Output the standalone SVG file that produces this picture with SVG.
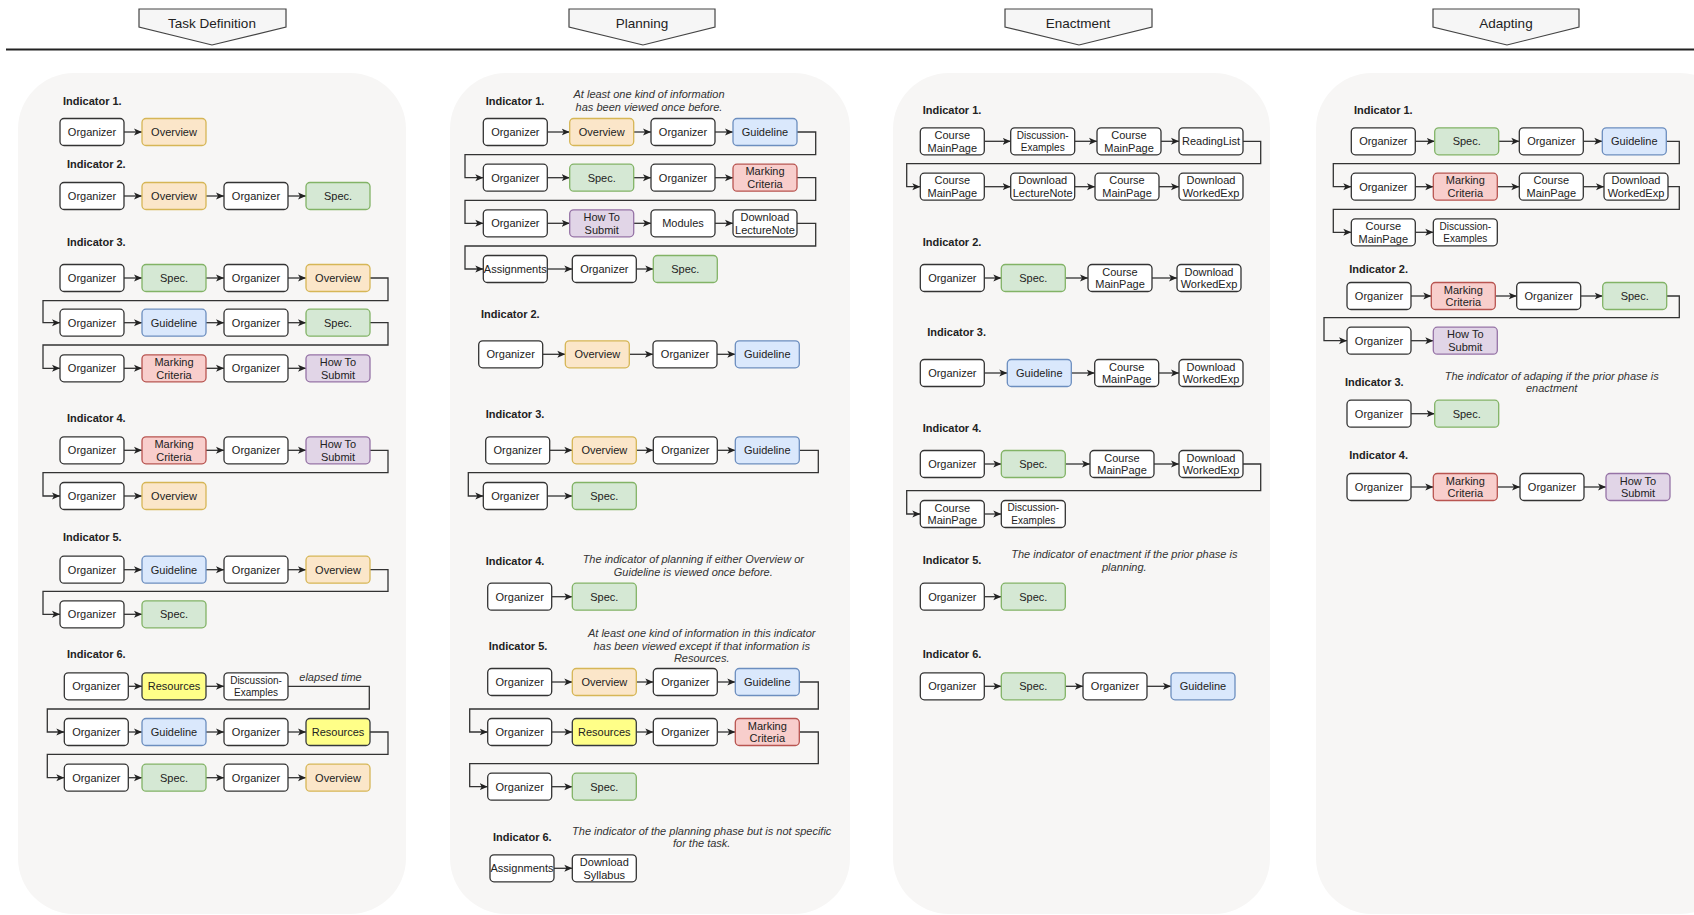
<svg xmlns="http://www.w3.org/2000/svg" width="1694" height="915" viewBox="0 0 1694 915">
<style>
  .panel { fill: #f7f6f5; }
  .phase { fill: #f6f6f6; stroke: #444; stroke-width: 1.2; }
  .hd { font: 13.5px "Liberation Sans", Arial, sans-serif; fill: #222; text-anchor: middle; }
  rect.nw, rect.ov, rect.sp, rect.gl, rect.mc, rect.hs, rect.rs { stroke-width: 1.3; }
  .nw { fill: #ffffff; stroke: #333; }
  .ov { fill: #fbe6c9; stroke: #d6b656; }
  .sp { fill: #d5e8d4; stroke: #82b366; }
  .gl { fill: #dae8fc; stroke: #6c8ebf; }
  .mc { fill: #f8cecc; stroke: #b85450; }
  .hs { fill: #e1d5e7; stroke: #9673a6; }
  .rs { fill: #ffff88; stroke: #36393d; }
  .t { font: 11px "Liberation Sans", Arial, sans-serif; fill: #222; text-anchor: middle; }
  .s { font: 10px "Liberation Sans", Arial, sans-serif; fill: #222; text-anchor: middle; }
  .lb { font: bold 11px "Liberation Sans", Arial, sans-serif; fill: #222; }
  .nt { font: italic 11px "Liberation Sans", Arial, sans-serif; fill: #333; text-anchor: middle; }
  .cn { fill: none; stroke: #333; stroke-width: 1.3; marker-end: url(#ah); }
</style>
<defs>
  <marker id="ah" markerUnits="userSpaceOnUse" markerWidth="9" markerHeight="8" refX="8" refY="4" orient="auto">
    <path d="M0,0.5 L8,4 L0,7.5 L2,4 Z" fill="#222"/>
  </marker>
</defs>
<rect width="1694" height="915" fill="#ffffff"/>

<!-- phase headers -->
<g id="header">
  <line x1="6" y1="49.5" x2="1694" y2="49.5" stroke="#222" stroke-width="2"/>
  <g id="ph-task"><path class="phase" d="M139,9 H286 V27 L212,45 L139,27 Z"/><text class="hd" x="212" y="28">Task Definition</text></g>
  <g id="ph-plan"><path class="phase" d="M569,9 H715 V27 L643,45 L569,27 Z"/><text class="hd" x="642" y="28">Planning</text></g>
  <g id="ph-enact"><path class="phase" d="M1005,9 H1152 V27 L1079,45 L1005,27 Z"/><text class="hd" x="1078" y="28">Enactment</text></g>
  <g id="ph-adapt"><path class="phase" d="M1433,9 H1579 V27 L1507,45 L1433,27 Z"/><text class="hd" x="1506" y="28">Adapting</text></g>
</g>

<!-- column panels -->
<g id="panels">
  <rect class="panel" x="18" y="73" width="388" height="841" rx="56"/>
  <rect class="panel" x="450" y="73" width="400" height="841" rx="56"/>
  <rect class="panel" x="893" y="73" width="377" height="841" rx="56"/>
  <rect class="panel" x="1316" y="73" width="420" height="841" rx="56"/>
</g>

<!-- labels and notes -->
<g id="labels">
  <text class="lb" x="63" y="104.7">Indicator 1.</text>
  <text class="lb" x="67" y="168">Indicator 2.</text>
  <text class="lb" x="67" y="246">Indicator 3.</text>
  <text class="lb" x="67" y="422.3">Indicator 4.</text>
  <text class="lb" x="63" y="541">Indicator 5.</text>
  <text class="lb" x="67" y="658.3">Indicator 6.</text>
  <text class="nt" x="330.5" y="681">elapsed time</text>

  <text class="lb" x="485.7" y="104.7">Indicator 1.</text>
  <text class="lb" x="481" y="317.7">Indicator 2.</text>
  <text class="lb" x="485.7" y="418.3">Indicator 3.</text>
  <text class="lb" x="485.7" y="565">Indicator 4.</text>
  <text class="lb" x="488.7" y="649.7">Indicator 5.</text>
  <text class="lb" x="493" y="841">Indicator 6.</text>
  <text class="nt" x="649" y="98.3">At least one kind of information</text>
  <text class="nt" x="649" y="111">has been viewed once before.</text>
  <text class="nt" x="693.3" y="563.3">The indicator of planning if either Overview or</text>
  <text class="nt" x="693.3" y="575.7">Guideline is viewed once before.</text>
  <text class="nt" x="701.7" y="637">At least one kind of information in this indicator</text>
  <text class="nt" x="701.7" y="649.7">has been viewed except if that information is</text>
  <text class="nt" x="701.7" y="662.3">Resources.</text>
  <text class="nt" x="701.7" y="835">The indicator of the planning phase but is not specific</text>
  <text class="nt" x="701.7" y="847.3">for the task.</text>

  <text class="lb" x="922.7" y="113.7">Indicator 1.</text>
  <text class="lb" x="922.7" y="245.7">Indicator 2.</text>
  <text class="lb" x="927.3" y="336">Indicator 3.</text>
  <text class="lb" x="922.7" y="431.7">Indicator 4.</text>
  <text class="lb" x="922.7" y="563.7">Indicator 5.</text>
  <text class="lb" x="922.7" y="658.3">Indicator 6.</text>
  <text class="nt" x="1124.3" y="558.3">The indicator of enactment if the prior phase is</text>
  <text class="nt" x="1124.3" y="571">planning.</text>

  <text class="lb" x="1354" y="113.7">Indicator 1.</text>
  <text class="lb" x="1349.3" y="272.7">Indicator 2.</text>
  <text class="lb" x="1345" y="386">Indicator 3.</text>
  <text class="lb" x="1349.3" y="459">Indicator 4.</text>
  <text class="nt" x="1551.7" y="380">The indicator of adaping if the prior phase is</text>
  <text class="nt" x="1551.7" y="392.3">enactment</text>
</g>

<!-- connectors -->
<g id="connectors">
  <!-- Task Definition -->
  <path class="cn" d="M124,132 H142"/>
  <path class="cn" d="M124,196 H142"/><path class="cn" d="M206,196 H224"/><path class="cn" d="M288,196 H306"/>
  <path class="cn" d="M124,278 H142"/><path class="cn" d="M206,278 H224"/><path class="cn" d="M288,278 H306"/>
  <path class="cn" d="M370,278 H388 V300.7 H43 V322.7 H60"/>
  <path class="cn" d="M124,322.7 H142"/><path class="cn" d="M206,322.7 H224"/><path class="cn" d="M288,322.7 H306"/>
  <path class="cn" d="M370,322.7 H388 V345 H43 V368.3 H60"/>
  <path class="cn" d="M124,368.3 H142"/><path class="cn" d="M206,368.3 H224"/><path class="cn" d="M288,368.3 H306"/>
  <path class="cn" d="M124,450.3 H142"/><path class="cn" d="M206,450.3 H224"/><path class="cn" d="M288,450.3 H306"/>
  <path class="cn" d="M370,450.3 H388 V472.7 H43 V496 H60"/>
  <path class="cn" d="M124,496 H142"/>
  <path class="cn" d="M124,569.7 H142"/><path class="cn" d="M206,569.7 H224"/><path class="cn" d="M288,569.7 H306"/>
  <path class="cn" d="M370,569.7 H388 V591.3 H43 V614.3 H60"/>
  <path class="cn" d="M124,614.3 H142"/>
  <path class="cn" d="M128.3,686.3 H142"/><path class="cn" d="M206,686.3 H224"/>
  <path class="cn" d="M288,686.3 H369.3 V709 H47.3 V732 H64.3"/>
  <path class="cn" d="M128.3,732 H142"/><path class="cn" d="M206,732 H224"/><path class="cn" d="M288,732 H306"/>
  <path class="cn" d="M370,732 H388 V754.3 H47.3 V777.7 H64.3"/>
  <path class="cn" d="M128.3,777.7 H142"/><path class="cn" d="M206,777.7 H224"/><path class="cn" d="M288,777.7 H306"/>

  <!-- Planning -->
  <path class="cn" d="M547.3,132 H569.7"/><path class="cn" d="M633.7,132 H651"/><path class="cn" d="M715,132 H733"/>
  <path class="cn" d="M797,132 H815.7 V154.7 H465 V177.7 H483.3"/>
  <path class="cn" d="M547.3,177.7 H569.7"/><path class="cn" d="M633.7,177.7 H651"/><path class="cn" d="M715,177.7 H733"/>
  <path class="cn" d="M797,177.7 H815.7 V200.3 H465 V223.3 H483.3"/>
  <path class="cn" d="M547.3,223.3 H569.7"/><path class="cn" d="M633.7,223.3 H651"/><path class="cn" d="M715,223.3 H733"/>
  <path class="cn" d="M797,223.3 H815.7 V246 H465 V269 H483.3"/>
  <path class="cn" d="M547.3,269 H572.3"/><path class="cn" d="M636.3,269 H653.3"/>
  <path class="cn" d="M542.7,354.3 H565.3"/><path class="cn" d="M629.3,354.3 H653"/><path class="cn" d="M717,354.3 H735.3"/>
  <path class="cn" d="M549.7,450.3 H572.3"/><path class="cn" d="M636.3,450.3 H653.3"/><path class="cn" d="M717.3,450.3 H735.3"/>
  <path class="cn" d="M799.3,450.3 H818.3 V472.7 H468.3 V496 H483.3"/>
  <path class="cn" d="M547.3,496 H572.3"/>
  <path class="cn" d="M551.7,596.7 H572.3"/>
  <path class="cn" d="M551.7,682 H572.3"/><path class="cn" d="M636.3,682 H653.3"/><path class="cn" d="M717.3,682 H735.3"/>
  <path class="cn" d="M799.3,682 H818.3 V709 H469.7 V732 H487.7"/>
  <path class="cn" d="M551.7,732 H572.3"/><path class="cn" d="M636.3,732 H653.3"/><path class="cn" d="M717.3,732 H735.3"/>
  <path class="cn" d="M799.3,732 H818.3 V763.7 H469.7 V786.7 H487.7"/>
  <path class="cn" d="M551.7,786.7 H572.3"/>
  <path class="cn" d="M554,868.3 H572.3"/>

  <!-- Enactment -->
  <path class="cn" d="M984.3,141.3 H1010.7"/><path class="cn" d="M1074.7,141.3 H1097"/><path class="cn" d="M1161,141.3 H1179"/>
  <path class="cn" d="M1243,141.3 H1260.7 V163.7 H906.7 V186.7 H920.3"/>
  <path class="cn" d="M984.3,186.7 H1010.7"/><path class="cn" d="M1074.7,186.7 H1095"/><path class="cn" d="M1159,186.7 H1179"/>
  <path class="cn" d="M984.3,278 H1001.3"/><path class="cn" d="M1065.3,278 H1088"/><path class="cn" d="M1152,278 H1177"/>
  <path class="cn" d="M984.3,373 H1007.3"/><path class="cn" d="M1071.3,373 H1094.7"/><path class="cn" d="M1158.7,373 H1179"/>
  <path class="cn" d="M984.3,464 H1001.3"/><path class="cn" d="M1065.3,464 H1090"/><path class="cn" d="M1154,464 H1179"/>
  <path class="cn" d="M1243,464 H1260.7 V490.7 H906.7 V514 H920.3"/>
  <path class="cn" d="M984.3,514 H1001.3"/>
  <path class="cn" d="M984.3,596.7 H1001.3"/>
  <path class="cn" d="M984.3,686.3 H1001.3"/><path class="cn" d="M1065.3,686.3 H1083"/><path class="cn" d="M1147,686.3 H1171"/>

  <!-- Adapting -->
  <path class="cn" d="M1415.3,141.3 H1434.7"/><path class="cn" d="M1498.7,141.3 H1519.3"/><path class="cn" d="M1583.3,141.3 H1602.3"/>
  <path class="cn" d="M1666.3,141.3 H1679.3 V163.7 H1333.3 V186.7 H1351.3"/>
  <path class="cn" d="M1415.3,186.7 H1433.3"/><path class="cn" d="M1497.3,186.7 H1519.3"/><path class="cn" d="M1583.3,186.7 H1604"/>
  <path class="cn" d="M1668,186.7 H1679.3 V209.3 H1333.3 V232.3 H1351.3"/>
  <path class="cn" d="M1415.3,232.3 H1433.3"/>
  <path class="cn" d="M1411,296 H1431.3"/><path class="cn" d="M1495.3,296 H1516.7"/><path class="cn" d="M1580.7,296 H1602.7"/>
  <path class="cn" d="M1666.7,296 H1679.3 V317.7 H1324 V340.7 H1347"/>
  <path class="cn" d="M1411,340.7 H1433.3"/>
  <path class="cn" d="M1411,413.7 H1434.7"/>
  <path class="cn" d="M1411,487 H1433.3"/><path class="cn" d="M1497.3,487 H1520"/><path class="cn" d="M1584,487 H1606"/>
</g>

<!-- ===== Task Definition nodes ===== -->
<g id="td-i1-1"><rect class="nw" x="60" y="118.5" width="64" height="27" rx="4"/><text class="t" x="92" y="136">Organizer</text></g>
<g id="td-i1-2"><rect class="ov" x="142" y="118.5" width="64" height="27" rx="4"/><text class="t" x="174" y="136">Overview</text></g>

<g id="td-i2-1"><rect class="nw" x="60" y="182.5" width="64" height="27" rx="4"/><text class="t" x="92" y="200">Organizer</text></g>
<g id="td-i2-2"><rect class="ov" x="142" y="182.5" width="64" height="27" rx="4"/><text class="t" x="174" y="200">Overview</text></g>
<g id="td-i2-3"><rect class="nw" x="224" y="182.5" width="64" height="27" rx="4"/><text class="t" x="256" y="200">Organizer</text></g>
<g id="td-i2-4"><rect class="sp" x="306" y="182.5" width="64" height="27" rx="4"/><text class="t" x="338" y="200">Spec.</text></g>

<g id="td-i3-1"><rect class="nw" x="60" y="264.5" width="64" height="27" rx="4"/><text class="t" x="92" y="282">Organizer</text></g>
<g id="td-i3-2"><rect class="sp" x="142" y="264.5" width="64" height="27" rx="4"/><text class="t" x="174" y="282">Spec.</text></g>
<g id="td-i3-3"><rect class="nw" x="224" y="264.5" width="64" height="27" rx="4"/><text class="t" x="256" y="282">Organizer</text></g>
<g id="td-i3-4"><rect class="ov" x="306" y="264.5" width="64" height="27" rx="4"/><text class="t" x="338" y="282">Overview</text></g>
<g id="td-i3-5"><rect class="nw" x="60" y="309.2" width="64" height="27" rx="4"/><text class="t" x="92" y="326.7">Organizer</text></g>
<g id="td-i3-6"><rect class="gl" x="142" y="309.2" width="64" height="27" rx="4"/><text class="t" x="174" y="326.7">Guideline</text></g>
<g id="td-i3-7"><rect class="nw" x="224" y="309.2" width="64" height="27" rx="4"/><text class="t" x="256" y="326.7">Organizer</text></g>
<g id="td-i3-8"><rect class="sp" x="306" y="309.2" width="64" height="27" rx="4"/><text class="t" x="338" y="326.7">Spec.</text></g>
<g id="td-i3-9"><rect class="nw" x="60" y="354.8" width="64" height="27" rx="4"/><text class="t" x="92" y="372.3">Organizer</text></g>
<g id="td-i3-10"><rect class="mc" x="142" y="354.8" width="64" height="27" rx="4"/><text class="t" x="174" y="366"><tspan x="174">Marking</tspan><tspan x="174" dy="12.7">Criteria</tspan></text></g>
<g id="td-i3-11"><rect class="nw" x="224" y="354.8" width="64" height="27" rx="4"/><text class="t" x="256" y="372.3">Organizer</text></g>
<g id="td-i3-12"><rect class="hs" x="306" y="354.8" width="64" height="27" rx="4"/><text class="t" x="338" y="366"><tspan x="338">How To</tspan><tspan x="338" dy="12.7">Submit</tspan></text></g>

<g id="td-i4-1"><rect class="nw" x="60" y="436.8" width="64" height="27" rx="4"/><text class="t" x="92" y="454.3">Organizer</text></g>
<g id="td-i4-2"><rect class="mc" x="142" y="436.8" width="64" height="27" rx="4"/><text class="t" x="174" y="448"><tspan x="174">Marking</tspan><tspan x="174" dy="12.7">Criteria</tspan></text></g>
<g id="td-i4-3"><rect class="nw" x="224" y="436.8" width="64" height="27" rx="4"/><text class="t" x="256" y="454.3">Organizer</text></g>
<g id="td-i4-4"><rect class="hs" x="306" y="436.8" width="64" height="27" rx="4"/><text class="t" x="338" y="448"><tspan x="338">How To</tspan><tspan x="338" dy="12.7">Submit</tspan></text></g>
<g id="td-i4-5"><rect class="nw" x="60" y="482.5" width="64" height="27" rx="4"/><text class="t" x="92" y="500">Organizer</text></g>
<g id="td-i4-6"><rect class="ov" x="142" y="482.5" width="64" height="27" rx="4"/><text class="t" x="174" y="500">Overview</text></g>

<g id="td-i5-1"><rect class="nw" x="60" y="556.2" width="64" height="27" rx="4"/><text class="t" x="92" y="573.7">Organizer</text></g>
<g id="td-i5-2"><rect class="gl" x="142" y="556.2" width="64" height="27" rx="4"/><text class="t" x="174" y="573.7">Guideline</text></g>
<g id="td-i5-3"><rect class="nw" x="224" y="556.2" width="64" height="27" rx="4"/><text class="t" x="256" y="573.7">Organizer</text></g>
<g id="td-i5-4"><rect class="ov" x="306" y="556.2" width="64" height="27" rx="4"/><text class="t" x="338" y="573.7">Overview</text></g>
<g id="td-i5-5"><rect class="nw" x="60" y="600.8" width="64" height="27" rx="4"/><text class="t" x="92" y="618.3">Organizer</text></g>
<g id="td-i5-6"><rect class="sp" x="142" y="600.8" width="64" height="27" rx="4"/><text class="t" x="174" y="618.3">Spec.</text></g>

<g id="td-i6-1"><rect class="nw" x="64.3" y="672.8" width="64" height="27" rx="4"/><text class="t" x="96.3" y="690.3">Organizer</text></g>
<g id="td-i6-2"><rect class="rs" x="142" y="672.8" width="64" height="27" rx="4"/><text class="t" x="174" y="690.3">Resources</text></g>
<g id="td-i6-3"><rect class="nw" x="224" y="672.8" width="64" height="27" rx="4"/><text class="s" x="256" y="683.6"><tspan x="256">Discussion-</tspan><tspan x="256" dy="12.7">Examples</tspan></text></g>
<g id="td-i6-4"><rect class="nw" x="64.3" y="718.5" width="64" height="27" rx="4"/><text class="t" x="96.3" y="736">Organizer</text></g>
<g id="td-i6-5"><rect class="gl" x="142" y="718.5" width="64" height="27" rx="4"/><text class="t" x="174" y="736">Guideline</text></g>
<g id="td-i6-6"><rect class="nw" x="224" y="718.5" width="64" height="27" rx="4"/><text class="t" x="256" y="736">Organizer</text></g>
<g id="td-i6-7"><rect class="rs" x="306" y="718.5" width="64" height="27" rx="4"/><text class="t" x="338" y="736">Resources</text></g>
<g id="td-i6-8"><rect class="nw" x="64.3" y="764.2" width="64" height="27" rx="4"/><text class="t" x="96.3" y="781.7">Organizer</text></g>
<g id="td-i6-9"><rect class="sp" x="142" y="764.2" width="64" height="27" rx="4"/><text class="t" x="174" y="781.7">Spec.</text></g>
<g id="td-i6-10"><rect class="nw" x="224" y="764.2" width="64" height="27" rx="4"/><text class="t" x="256" y="781.7">Organizer</text></g>
<g id="td-i6-11"><rect class="ov" x="306" y="764.2" width="64" height="27" rx="4"/><text class="t" x="338" y="781.7">Overview</text></g>

<!-- ===== Planning nodes ===== -->
<g id="pl-i1-1"><rect class="nw" x="483.3" y="118.5" width="64" height="27" rx="4"/><text class="t" x="515.3" y="136">Organizer</text></g>
<g id="pl-i1-2"><rect class="ov" x="569.7" y="118.5" width="64" height="27" rx="4"/><text class="t" x="601.7" y="136">Overview</text></g>
<g id="pl-i1-3"><rect class="nw" x="651" y="118.5" width="64" height="27" rx="4"/><text class="t" x="683" y="136">Organizer</text></g>
<g id="pl-i1-4"><rect class="gl" x="733" y="118.5" width="64" height="27" rx="4"/><text class="t" x="765" y="136">Guideline</text></g>
<g id="pl-i1-5"><rect class="nw" x="483.3" y="164.2" width="64" height="27" rx="4"/><text class="t" x="515.3" y="181.7">Organizer</text></g>
<g id="pl-i1-6"><rect class="sp" x="569.7" y="164.2" width="64" height="27" rx="4"/><text class="t" x="601.7" y="181.7">Spec.</text></g>
<g id="pl-i1-7"><rect class="nw" x="651" y="164.2" width="64" height="27" rx="4"/><text class="t" x="683" y="181.7">Organizer</text></g>
<g id="pl-i1-8"><rect class="mc" x="733" y="164.2" width="64" height="27" rx="4"/><text class="t" x="765" y="175.4"><tspan x="765">Marking</tspan><tspan x="765" dy="12.7">Criteria</tspan></text></g>
<g id="pl-i1-9"><rect class="nw" x="483.3" y="209.8" width="64" height="27" rx="4"/><text class="t" x="515.3" y="227.3">Organizer</text></g>
<g id="pl-i1-10"><rect class="hs" x="569.7" y="209.8" width="64" height="27" rx="4"/><text class="t" x="601.7" y="221"><tspan x="601.7">How To</tspan><tspan x="601.7" dy="12.7">Submit</tspan></text></g>
<g id="pl-i1-11"><rect class="nw" x="651" y="209.8" width="64" height="27" rx="4"/><text class="t" x="683" y="227.3">Modules</text></g>
<g id="pl-i1-12"><rect class="nw" x="733" y="209.8" width="64" height="27" rx="4"/><text class="t" x="765" y="221"><tspan x="765">Download</tspan><tspan x="765" dy="12.7">LectureNote</tspan></text></g>
<g id="pl-i1-13"><rect class="nw" x="483.3" y="255.5" width="64" height="27" rx="4"/><text class="t" x="515.3" y="273">Assignments</text></g>
<g id="pl-i1-14"><rect class="nw" x="572.3" y="255.5" width="64" height="27" rx="4"/><text class="t" x="604.3" y="273">Organizer</text></g>
<g id="pl-i1-15"><rect class="sp" x="653.3" y="255.5" width="64" height="27" rx="4"/><text class="t" x="685.3" y="273">Spec.</text></g>

<g id="pl-i2-1"><rect class="nw" x="478.7" y="340.8" width="64" height="27" rx="4"/><text class="t" x="510.7" y="358.3">Organizer</text></g>
<g id="pl-i2-2"><rect class="ov" x="565.3" y="340.8" width="64" height="27" rx="4"/><text class="t" x="597.3" y="358.3">Overview</text></g>
<g id="pl-i2-3"><rect class="nw" x="653" y="340.8" width="64" height="27" rx="4"/><text class="t" x="685" y="358.3">Organizer</text></g>
<g id="pl-i2-4"><rect class="gl" x="735.3" y="340.8" width="64" height="27" rx="4"/><text class="t" x="767.3" y="358.3">Guideline</text></g>

<g id="pl-i3-1"><rect class="nw" x="485.7" y="436.8" width="64" height="27" rx="4"/><text class="t" x="517.7" y="454.3">Organizer</text></g>
<g id="pl-i3-2"><rect class="ov" x="572.3" y="436.8" width="64" height="27" rx="4"/><text class="t" x="604.3" y="454.3">Overview</text></g>
<g id="pl-i3-3"><rect class="nw" x="653.3" y="436.8" width="64" height="27" rx="4"/><text class="t" x="685.3" y="454.3">Organizer</text></g>
<g id="pl-i3-4"><rect class="gl" x="735.3" y="436.8" width="64" height="27" rx="4"/><text class="t" x="767.3" y="454.3">Guideline</text></g>
<g id="pl-i3-5"><rect class="nw" x="483.3" y="482.5" width="64" height="27" rx="4"/><text class="t" x="515.3" y="500">Organizer</text></g>
<g id="pl-i3-6"><rect class="sp" x="572.3" y="482.5" width="64" height="27" rx="4"/><text class="t" x="604.3" y="500">Spec.</text></g>

<g id="pl-i4-1"><rect class="nw" x="487.7" y="583.2" width="64" height="27" rx="4"/><text class="t" x="519.7" y="600.7">Organizer</text></g>
<g id="pl-i4-2"><rect class="sp" x="572.3" y="583.2" width="64" height="27" rx="4"/><text class="t" x="604.3" y="600.7">Spec.</text></g>

<g id="pl-i5-1"><rect class="nw" x="487.7" y="668.5" width="64" height="27" rx="4"/><text class="t" x="519.7" y="686">Organizer</text></g>
<g id="pl-i5-2"><rect class="ov" x="572.3" y="668.5" width="64" height="27" rx="4"/><text class="t" x="604.3" y="686">Overview</text></g>
<g id="pl-i5-3"><rect class="nw" x="653.3" y="668.5" width="64" height="27" rx="4"/><text class="t" x="685.3" y="686">Organizer</text></g>
<g id="pl-i5-4"><rect class="gl" x="735.3" y="668.5" width="64" height="27" rx="4"/><text class="t" x="767.3" y="686">Guideline</text></g>
<g id="pl-i5-5"><rect class="nw" x="487.7" y="718.5" width="64" height="27" rx="4"/><text class="t" x="519.7" y="736">Organizer</text></g>
<g id="pl-i5-6"><rect class="rs" x="572.3" y="718.5" width="64" height="27" rx="4"/><text class="t" x="604.3" y="736">Resources</text></g>
<g id="pl-i5-7"><rect class="nw" x="653.3" y="718.5" width="64" height="27" rx="4"/><text class="t" x="685.3" y="736">Organizer</text></g>
<g id="pl-i5-8"><rect class="mc" x="735.3" y="718.5" width="64" height="27" rx="4"/><text class="t" x="767.3" y="729.7"><tspan x="767.3">Marking</tspan><tspan x="767.3" dy="12.7">Criteria</tspan></text></g>
<g id="pl-i5-9"><rect class="nw" x="487.7" y="773.2" width="64" height="27" rx="4"/><text class="t" x="519.7" y="790.7">Organizer</text></g>
<g id="pl-i5-10"><rect class="sp" x="572.3" y="773.2" width="64" height="27" rx="4"/><text class="t" x="604.3" y="790.7">Spec.</text></g>

<g id="pl-i6-1"><rect class="nw" x="490" y="854.8" width="64" height="27" rx="4"/><text class="t" x="522" y="872.3">Assignments</text></g>
<g id="pl-i6-2"><rect class="nw" x="572.3" y="854.8" width="64" height="27" rx="4"/><text class="t" x="604.3" y="866"><tspan x="604.3">Download</tspan><tspan x="604.3" dy="12.7">Syllabus</tspan></text></g>

<!-- ===== Enactment nodes ===== -->
<g id="en-i1-1"><rect class="nw" x="920.3" y="127.8" width="64" height="27" rx="4"/><text class="t" x="952.3" y="139"><tspan x="952.3">Course</tspan><tspan x="952.3" dy="12.7">MainPage</tspan></text></g>
<g id="en-i1-2"><rect class="nw" x="1010.7" y="127.8" width="64" height="27" rx="4"/><text class="s" x="1042.7" y="138.6"><tspan x="1042.7">Discussion-</tspan><tspan x="1042.7" dy="12.7">Examples</tspan></text></g>
<g id="en-i1-3"><rect class="nw" x="1097" y="127.8" width="64" height="27" rx="4"/><text class="t" x="1129" y="139"><tspan x="1129">Course</tspan><tspan x="1129" dy="12.7">MainPage</tspan></text></g>
<g id="en-i1-4"><rect class="nw" x="1179" y="127.8" width="64" height="27" rx="4"/><text class="t" x="1211" y="145.3">ReadingList</text></g>
<g id="en-i1-5"><rect class="nw" x="920.3" y="173.2" width="64" height="27" rx="4"/><text class="t" x="952.3" y="184.4"><tspan x="952.3">Course</tspan><tspan x="952.3" dy="12.7">MainPage</tspan></text></g>
<g id="en-i1-6"><rect class="nw" x="1010.7" y="173.2" width="64" height="27" rx="4"/><text class="t" x="1042.7" y="184.4"><tspan x="1042.7">Download</tspan><tspan x="1042.7" dy="12.7">LectureNote</tspan></text></g>
<g id="en-i1-7"><rect class="nw" x="1095" y="173.2" width="64" height="27" rx="4"/><text class="t" x="1127" y="184.4"><tspan x="1127">Course</tspan><tspan x="1127" dy="12.7">MainPage</tspan></text></g>
<g id="en-i1-8"><rect class="nw" x="1179" y="173.2" width="64" height="27" rx="4"/><text class="t" x="1211" y="184.4"><tspan x="1211">Download</tspan><tspan x="1211" dy="12.7">WorkedExp</tspan></text></g>

<g id="en-i2-1"><rect class="nw" x="920.3" y="264.5" width="64" height="27" rx="4"/><text class="t" x="952.3" y="282">Organizer</text></g>
<g id="en-i2-2"><rect class="sp" x="1001.3" y="264.5" width="64" height="27" rx="4"/><text class="t" x="1033.3" y="282">Spec.</text></g>
<g id="en-i2-3"><rect class="nw" x="1088" y="264.5" width="64" height="27" rx="4"/><text class="t" x="1120" y="275.7"><tspan x="1120">Course</tspan><tspan x="1120" dy="12.7">MainPage</tspan></text></g>
<g id="en-i2-4"><rect class="nw" x="1177" y="264.5" width="64" height="27" rx="4"/><text class="t" x="1209" y="275.7"><tspan x="1209">Download</tspan><tspan x="1209" dy="12.7">WorkedExp</tspan></text></g>

<g id="en-i3-1"><rect class="nw" x="920.3" y="359.5" width="64" height="27" rx="4"/><text class="t" x="952.3" y="377">Organizer</text></g>
<g id="en-i3-2"><rect class="gl" x="1007.3" y="359.5" width="64" height="27" rx="4"/><text class="t" x="1039.3" y="377">Guideline</text></g>
<g id="en-i3-3"><rect class="nw" x="1094.7" y="359.5" width="64" height="27" rx="4"/><text class="t" x="1126.7" y="370.7"><tspan x="1126.7">Course</tspan><tspan x="1126.7" dy="12.7">MainPage</tspan></text></g>
<g id="en-i3-4"><rect class="nw" x="1179" y="359.5" width="64" height="27" rx="4"/><text class="t" x="1211" y="370.7"><tspan x="1211">Download</tspan><tspan x="1211" dy="12.7">WorkedExp</tspan></text></g>

<g id="en-i4-1"><rect class="nw" x="920.3" y="450.5" width="64" height="27" rx="4"/><text class="t" x="952.3" y="468">Organizer</text></g>
<g id="en-i4-2"><rect class="sp" x="1001.3" y="450.5" width="64" height="27" rx="4"/><text class="t" x="1033.3" y="468">Spec.</text></g>
<g id="en-i4-3"><rect class="nw" x="1090" y="450.5" width="64" height="27" rx="4"/><text class="t" x="1122" y="461.7"><tspan x="1122">Course</tspan><tspan x="1122" dy="12.7">MainPage</tspan></text></g>
<g id="en-i4-4"><rect class="nw" x="1179" y="450.5" width="64" height="27" rx="4"/><text class="t" x="1211" y="461.7"><tspan x="1211">Download</tspan><tspan x="1211" dy="12.7">WorkedExp</tspan></text></g>
<g id="en-i4-5"><rect class="nw" x="920.3" y="500.5" width="64" height="27" rx="4"/><text class="t" x="952.3" y="511.7"><tspan x="952.3">Course</tspan><tspan x="952.3" dy="12.7">MainPage</tspan></text></g>
<g id="en-i4-6"><rect class="nw" x="1001.3" y="500.5" width="64" height="27" rx="4"/><text class="s" x="1033.3" y="511.3"><tspan x="1033.3">Discussion-</tspan><tspan x="1033.3" dy="12.7">Examples</tspan></text></g>

<g id="en-i5-1"><rect class="nw" x="920.3" y="583.2" width="64" height="27" rx="4"/><text class="t" x="952.3" y="600.7">Organizer</text></g>
<g id="en-i5-2"><rect class="sp" x="1001.3" y="583.2" width="64" height="27" rx="4"/><text class="t" x="1033.3" y="600.7">Spec.</text></g>

<g id="en-i6-1"><rect class="nw" x="920.3" y="672.8" width="64" height="27" rx="4"/><text class="t" x="952.3" y="690.3">Organizer</text></g>
<g id="en-i6-2"><rect class="sp" x="1001.3" y="672.8" width="64" height="27" rx="4"/><text class="t" x="1033.3" y="690.3">Spec.</text></g>
<g id="en-i6-3"><rect class="nw" x="1083" y="672.8" width="64" height="27" rx="4"/><text class="t" x="1115" y="690.3">Organizer</text></g>
<g id="en-i6-4"><rect class="gl" x="1171" y="672.8" width="64" height="27" rx="4"/><text class="t" x="1203" y="690.3">Guideline</text></g>

<!-- ===== Adapting nodes ===== -->
<g id="ad-i1-1"><rect class="nw" x="1351.3" y="127.8" width="64" height="27" rx="4"/><text class="t" x="1383.3" y="145.3">Organizer</text></g>
<g id="ad-i1-2"><rect class="sp" x="1434.7" y="127.8" width="64" height="27" rx="4"/><text class="t" x="1466.7" y="145.3">Spec.</text></g>
<g id="ad-i1-3"><rect class="nw" x="1519.3" y="127.8" width="64" height="27" rx="4"/><text class="t" x="1551.3" y="145.3">Organizer</text></g>
<g id="ad-i1-4"><rect class="gl" x="1602.3" y="127.8" width="64" height="27" rx="4"/><text class="t" x="1634.3" y="145.3">Guideline</text></g>
<g id="ad-i1-5"><rect class="nw" x="1351.3" y="173.2" width="64" height="27" rx="4"/><text class="t" x="1383.3" y="190.7">Organizer</text></g>
<g id="ad-i1-6"><rect class="mc" x="1433.3" y="173.2" width="64" height="27" rx="4"/><text class="t" x="1465.3" y="184.4"><tspan x="1465.3">Marking</tspan><tspan x="1465.3" dy="12.7">Criteria</tspan></text></g>
<g id="ad-i1-7"><rect class="nw" x="1519.3" y="173.2" width="64" height="27" rx="4"/><text class="t" x="1551.3" y="184.4"><tspan x="1551.3">Course</tspan><tspan x="1551.3" dy="12.7">MainPage</tspan></text></g>
<g id="ad-i1-8"><rect class="nw" x="1604" y="173.2" width="64" height="27" rx="4"/><text class="t" x="1636" y="184.4"><tspan x="1636">Download</tspan><tspan x="1636" dy="12.7">WorkedExp</tspan></text></g>
<g id="ad-i1-9"><rect class="nw" x="1351.3" y="218.8" width="64" height="27" rx="4"/><text class="t" x="1383.3" y="230"><tspan x="1383.3">Course</tspan><tspan x="1383.3" dy="12.7">MainPage</tspan></text></g>
<g id="ad-i1-10"><rect class="nw" x="1433.3" y="218.8" width="64" height="27" rx="4"/><text class="s" x="1465.3" y="229.6"><tspan x="1465.3">Discussion-</tspan><tspan x="1465.3" dy="12.7">Examples</tspan></text></g>

<g id="ad-i2-1"><rect class="nw" x="1347" y="282.5" width="64" height="27" rx="4"/><text class="t" x="1379" y="300">Organizer</text></g>
<g id="ad-i2-2"><rect class="mc" x="1431.3" y="282.5" width="64" height="27" rx="4"/><text class="t" x="1463.3" y="293.7"><tspan x="1463.3">Marking</tspan><tspan x="1463.3" dy="12.7">Criteria</tspan></text></g>
<g id="ad-i2-3"><rect class="nw" x="1516.7" y="282.5" width="64" height="27" rx="4"/><text class="t" x="1548.7" y="300">Organizer</text></g>
<g id="ad-i2-4"><rect class="sp" x="1602.7" y="282.5" width="64" height="27" rx="4"/><text class="t" x="1634.7" y="300">Spec.</text></g>
<g id="ad-i2-5"><rect class="nw" x="1347" y="327.2" width="64" height="27" rx="4"/><text class="t" x="1379" y="344.7">Organizer</text></g>
<g id="ad-i2-6"><rect class="hs" x="1433.3" y="327.2" width="64" height="27" rx="4"/><text class="t" x="1465.3" y="338.4"><tspan x="1465.3">How To</tspan><tspan x="1465.3" dy="12.7">Submit</tspan></text></g>

<g id="ad-i3-1"><rect class="nw" x="1347" y="400.2" width="64" height="27" rx="4"/><text class="t" x="1379" y="417.7">Organizer</text></g>
<g id="ad-i3-2"><rect class="sp" x="1434.7" y="400.2" width="64" height="27" rx="4"/><text class="t" x="1466.7" y="417.7">Spec.</text></g>

<g id="ad-i4-1"><rect class="nw" x="1347" y="473.5" width="64" height="27" rx="4"/><text class="t" x="1379" y="491">Organizer</text></g>
<g id="ad-i4-2"><rect class="mc" x="1433.3" y="473.5" width="64" height="27" rx="4"/><text class="t" x="1465.3" y="484.7"><tspan x="1465.3">Marking</tspan><tspan x="1465.3" dy="12.7">Criteria</tspan></text></g>
<g id="ad-i4-3"><rect class="nw" x="1520" y="473.5" width="64" height="27" rx="4"/><text class="t" x="1552" y="491">Organizer</text></g>
<g id="ad-i4-4"><rect class="hs" x="1606" y="473.5" width="64" height="27" rx="4"/><text class="t" x="1638" y="484.7"><tspan x="1638">How To</tspan><tspan x="1638" dy="12.7">Submit</tspan></text></g>
</svg>
